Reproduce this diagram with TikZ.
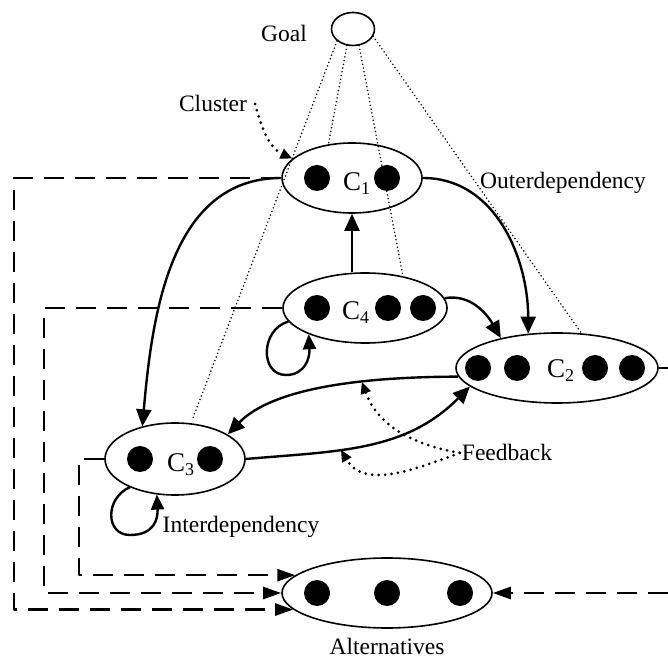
\documentclass[tikz,border=0pt]{standalone}
\usepackage{fontspec}
\setmainfont{Liberation Serif}
\usetikzlibrary{shapes.geometric,arrows.meta}

\begin{document}
\begin{tikzpicture}[x=1pt,y=1pt,>={Triangle[length=17pt,width=15pt]},line join=round,
		ell/.style={draw,ellipse,line width=1.6pt,inner sep=0pt},
		dot/.style={circle,fill,minimum size=26pt,inner sep=0pt},
		txt/.style={font=\fontsize{23.5}{28}\selectfont,inner sep=2pt,anchor=base},
		cname/.style={font=\fontsize{27}{30}\selectfont,inner sep=0pt,anchor=base west},
		rel/.style={->,line width=2.4pt},
		loopy/.style={-{Triangle[length=15pt,width=13pt]},line width=2.4pt},
		altline/.style={-{Triangle[length=18pt,width=12pt]},line width=2.6pt,dash pattern=on 20pt off 11pt},
		goalline/.style={line width=1.7pt,dash pattern=on 0pt off 3.8pt,line cap=round},
		note/.style={-{Triangle[length=12pt,width=10pt]},line width=3pt,dash pattern=on 0pt off 6.5pt,line cap=round}]
	\useasboundingbox (0,0) rectangle (668,658);
	\def\clab#1{C\raisebox{-3.5pt}{\fontsize{18}{18}\selectfont #1}}
	% goal and clusters
	\node[ell,minimum width=43pt,minimum height=33pt] (goal) at (353,629) {};
	\node[ell,minimum width=140pt,minimum height=70pt] (C1) at (352,480) {};
	\node[ell,minimum width=164pt,minimum height=70pt] (C4) at (365,350) {};
	\node[ell,minimum width=202pt,minimum height=70pt] (C2) at (557,290) {};
	\node[ell,minimum width=140pt,minimum height=72pt] (C3) at (175,199) {};
	\node[ell,minimum width=210pt,minimum height=70pt] (alt) at (387,65) {};
	% elements
	\foreach \x [count=\i] in {317,387} \node[dot] (C1d\i) at (\x,480) {};
	\foreach \x [count=\i] in {317,388,423} \node[dot] (C4d\i) at (\x,350) {};
	\foreach \x [count=\i] in {478,517,595,632} \node[dot] (C2d\i) at (\x,290) {};
	\foreach \x [count=\i] in {140,210} \node[dot] (C3d\i) at (\x,199) {};
	\foreach \x [count=\i] in {317,387,460} \node[dot] (altd\i) at (\x,65) {};
	\node[cname] (C1lbl) at (343,467) {\clab{1}};
	\node[cname] (C4lbl) at (342,338) {\clab{4}};
	\node[cname] (C2lbl) at (547,280) {\clab{2}};
	\node[cname] (C3lbl) at (167,186) {\clab{3}};
	% labels
	\node[txt] (goallbl) at (284,616) {Goal};
	\node[txt] (clusterlbl) at (213,546) {Cluster};
	\node[txt] (outerlbl) at (563,469) {Outerdependency};
	\node[txt] (feedbacklbl) at (507,197) {Feedback};
	\node[txt] (interlbl) at (241,125) {Interdependency};
	\node[txt] (altlbl) at (387,4) {Alternatives};
	% goal links
	\draw[goalline,shorten >=4pt] (goal.217) -- (C3.66);
	\draw[goalline] (goal.250) -- (C1.125);
	\draw[goalline] (goal.290) -- (C4.40);
	\draw[goalline] (goal.340) -- (C2.55);
	% dependencies
	\draw[rel] (C1.east) to[out=0,in=90] (C2.130);
	\draw[rel] (C4.7) to[out=10,in=120] (C2.152);
	\draw[rel] (C1.south |- C4.north) -- (C1.south);
	\draw[rel] (C1.west) to[out=180,in=85] (C3.135);
	\draw[rel] (C2.185) .. controls (330,281) and (265,262) .. (C3.25) coordinate[pos=0.29] (fbup);
	\draw[rel] (C3.east) .. controls (337,207) and (405,206) .. (C2.192) coordinate[pos=0.38] (fbdown);
	\draw[loopy] (C4.190) .. controls (260,328) and (260,283) .. (286,283) .. controls (305,283) and (310,300) .. (C4.205);
	\draw[loopy] (C3.212) .. controls (105,160) and (105,123) .. (130,123) .. controls (155,123) and (158,140) .. (C3.243);
	\coordinate (c2out) at (668,290);
	\draw[line width=2.4pt] (C2.east) -- (c2out);
	% to the alternatives
	\coordinate (vout) at (14,0);
	\coordinate (vmid) at (44,0);
	\coordinate (vin) at (79,0);
	\coordinate (rin) at (668,65);
	\draw[altline] (C1.west) -| (vout |- alt.190) -- (alt.190);
	\draw[altline] (C4.west) -| (vmid |- alt.west) -- (alt.west);
	\draw[altline] (C3.west) -| (vin |- alt.169) -- (alt.169);
	\draw[altline] (rin) -- (alt.east);
	% notes
	\draw[note] ([xshift=6pt]clusterlbl.east) to[out=-75,in=155] (C1.162);
	\draw[note] (feedbacklbl.west) to[out=170,in=-70] (fbup);
	\draw[note] (feedbacklbl.west) to[out=200,in=-60] (fbdown);
\end{tikzpicture}
\end{document}
